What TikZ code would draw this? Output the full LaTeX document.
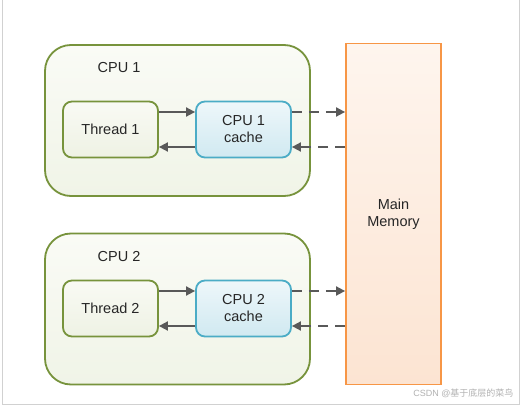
\documentclass[tikz,border=0pt]{standalone}
\usepackage{fontspec}
\setmainfont{Liberation Sans}
\newfontfamily\cjk{Noto Sans CJK SC}
\usetikzlibrary{arrows.meta,calc}
\definecolor{cpugreen}{HTML}{77933C}
\definecolor{cacheblue}{HTML}{4BACC6}
\definecolor{memorange}{HTML}{F79646}
\definecolor{arrgray}{HTML}{595959}
\definecolor{txt}{HTML}{262626}
\tikzset{
  cpubox/.style={draw=cpugreen, line width=1.8pt, rounded corners=26pt, top color={rgb,255:red,250;green,251;blue,246}, bottom color={rgb,255:red,240;green,244;blue,231}, minimum width=265pt, minimum height=151pt},
  threadbox/.style={draw=cpugreen, line width=1.8pt, rounded corners=9pt, top color={rgb,255:red,249;green,250;blue,244}, bottom color={rgb,255:red,238;green,242;blue,228}, minimum width=95pt, minimum height=56pt, font=\fontsize{14.5}{17}\selectfont, text=txt},
  cachebox/.style={draw=cacheblue, line width=1.8pt, rounded corners=9pt, top color={rgb,255:red,238;green,247;blue,250}, bottom color={rgb,255:red,208;green,233;blue,241}, minimum width=95pt, minimum height=56pt, align=center, font=\fontsize{14.5}{17}\selectfont, text=txt},
  membox/.style={draw=memorange, line width=1.8pt, top color={rgb,255:red,254;green,245;blue,238}, bottom color={rgb,255:red,252;green,228;blue,210}, minimum width=95pt, minimum height=341pt, align=center, font=\fontsize{14.5}{17}\selectfont, text=txt},
  lbl/.style={font=\fontsize{14.5}{17}\selectfont, text=txt},
  arr/.style={draw=arrgray, line width=1.8pt, -{Triangle[length=9pt,width=9pt]}},
  darr/.style={arr, dash pattern=on 10pt off 7pt},
}
\begin{document}
\begin{tikzpicture}[x=1pt,y=-1pt]
\useasboundingbox (0,0) rectangle (522,406);
\fill[white] (0,0) rectangle (522,406);
\draw[black!18, line width=1pt] (2.5,0) -- (2.5,404) -- (519.5,404) -- (519.5,0);
% CPU boxes
\node[cpubox] (cpu1) at (177.5,120.5) {};
\node[cpubox] (cpu2) at (177.5,309) {};
\node[lbl] (l1) at (119,68) {CPU 1};
\node[lbl] (l2) at (119,257) {CPU 2};
% memory
\node[membox] (mem) at (393.5,214) {Main\\Memory};
% threads and caches
\node[threadbox] (t1) at (110.5,129.5) {Thread 1};
\node[cachebox] (c1) at (243.5,129.5) {CPU 1\\cache};
\node[threadbox] (t2) at (110.5,308.5) {Thread 2};
\node[cachebox] (c2) at (243.5,308.5) {CPU 2\\cache};
% coordinates
\coordinate (t1a) at ([yshift=17.5pt]t1.east);
\coordinate (t1b) at ([yshift=-17.5pt]t1.east);
\coordinate (c1a) at ([yshift=17.5pt]c1.east);
\coordinate (c1b) at ([yshift=-17.5pt]c1.east);
\coordinate (t2a) at ([yshift=17.5pt]t2.east);
\coordinate (t2b) at ([yshift=-17.5pt]t2.east);
\coordinate (c2a) at ([yshift=17.5pt]c2.east);
\coordinate (c2b) at ([yshift=-17.5pt]c2.east);
% arrows
\draw[arr] (t1a) -- (t1a -| c1.west);
\draw[arr] (t1b -| c1.west) -- (t1b);
\draw[darr] (c1a) -- (c1a -| mem.west);
\draw[darr] (c1b -| mem.west) -- (c1b);
\draw[arr] (t2a) -- (t2a -| c2.west);
\draw[arr] (t2b -| c2.west) -- (t2b);
\draw[darr] (c2a) -- (c2a -| mem.west);
\draw[darr] (c2b -| mem.west) -- (c2b);
% watermark
\node[anchor=east, text=black!30, font=\fontsize{9}{10}\selectfont] (wm) at (517,393) {CSDN @{\cjk 基于底层的菜鸟}};
\end{tikzpicture}
\end{document}
